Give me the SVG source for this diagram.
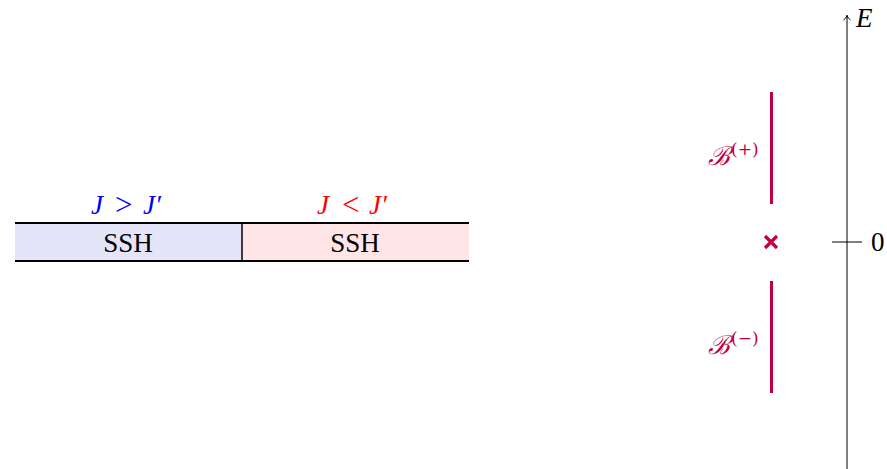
<svg xmlns="http://www.w3.org/2000/svg" width="887" height="469" viewBox="0 0 887 469">
<defs>
<style>
.t{font-family:"Liberation Serif","DejaVu Serif",serif;font-size:27px;}
.m{font-family:"Liberation Serif","DejaVu Serif",serif;font-size:27px;font-style:italic;}
.r{font-family:"Liberation Serif","DejaVu Serif",serif;font-size:31px;}
.band{stroke:#C2003F;stroke-width:3;fill:none;}
.bl{fill:#C2003F;font-family:"DejaVu Serif","Liberation Serif",serif;font-size:26px;}
</style>
</defs>
<rect width="887" height="469" fill="#fff"/>
<g id="left-ssh">
<rect x="15" y="223" width="227" height="38" fill="#E5E5FA"/>
<text class="t" x="128" y="252" text-anchor="middle">SSH</text>
<g fill="#0000FF">
<text class="m" x="91" y="214">J</text>
<text class="r" x="115" y="215">&gt;</text>
<text class="m" x="143" y="214">J′</text>
</g>
</g>
<g id="right-ssh">
<rect x="242" y="223" width="227" height="38" fill="#FFE5E5"/>
<text class="t" x="355" y="252" text-anchor="middle">SSH</text>
<g fill="#FF0000">
<text class="m" x="317" y="214">J</text>
<text class="r" x="342" y="215">&lt;</text>
<text class="m" x="369" y="214">J′</text>
</g>
</g>
<g id="box-lines" stroke="#000" stroke-width="2" fill="none">
<line x1="15" y1="223" x2="469" y2="223"/>
<line x1="15" y1="261" x2="469" y2="261"/>
<line x1="242" y1="223" x2="242" y2="261" stroke-width="1.5"/>
</g>
<g id="axis" stroke="#000" stroke-width="1" fill="none">
<line x1="847" y1="469" x2="847" y2="15"/>
<path d="M843.5,20 Q846,18.5 847,15.5 Q848,18.5 850.5,20"/>
<line x1="832" y1="242" x2="862" y2="242"/>
<text class="t" x="871" y="251" stroke="none" fill="#000">0</text>
<text class="m" x="856" y="27" stroke="none" fill="#000">E</text>
</g>
<g id="band-plus">
<line class="band" x1="771.5" y1="92" x2="771.5" y2="204"/>
<text class="bl" x="708" y="165" font-style="italic">ℬ<tspan font-size="17" dy="-10" dx="1" font-style="normal">(+)</tspan></text>
</g>
<g id="zero-mode">
<path d="M765,236 L777,248 M777,236 L765,248" stroke="#C2003F" stroke-width="3.2" fill="none"/>
</g>
<g id="band-minus">
<line class="band" x1="771.5" y1="281" x2="771.5" y2="393"/>
<text class="bl" x="708" y="354" font-style="italic">ℬ<tspan font-size="17" dy="-10" dx="1" font-style="normal">(−)</tspan></text>
</g>
</svg>
